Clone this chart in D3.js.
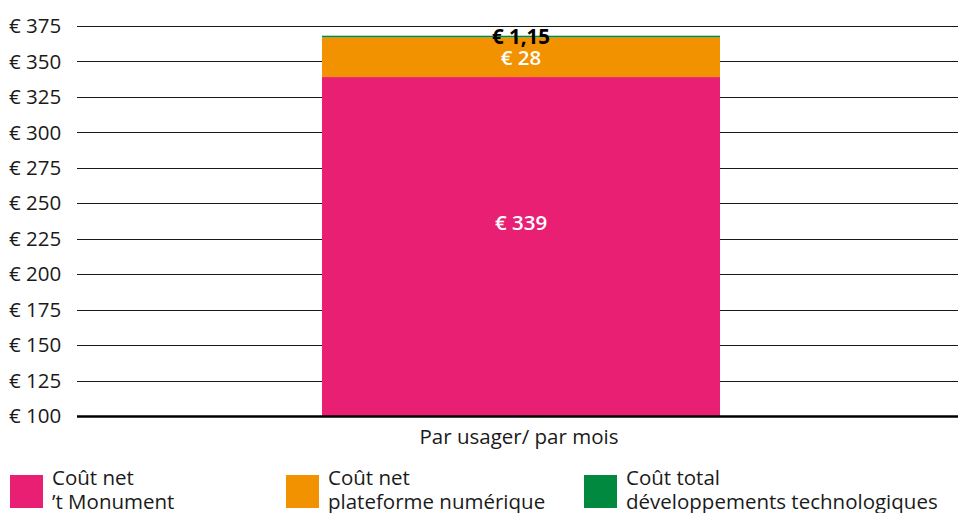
<!DOCTYPE html>
<html><head><meta charset="utf-8">
<script src="https://cdn.jsdelivr.net/npm/d3@7"></script>
<style>
body{margin:0;background:#fff;}
svg text{font-family:"Open Sans",sans-serif;}
</style></head>
<body><svg id="chart" width="958" height="513"></svg>
<script>
const categories = ["Par usager/ par mois"];
const seriesNames = [["Coût net", "’t Monument"], ["Coût net", "plateforme numérique"], ["Coût total", "développements technologiques"]];
const seriesValues = [[339], [28], [1.15]];
const valueLabels = ["€ 339", "€ 28", "€ 1,15"];
const colors = ["#E91F73", "#F39200", "#00893F"];
const tickValues = [100, 125, 150, 175, 200, 225, 250, 275, 300, 325, 350, 375];

const FS = 20.5;
const svg = d3.select("#chart");
const y = d3.scaleLinear().domain([100, 375]).range([416, 26]);
const x = d3.scaleBand().domain(categories).range([77, 965]).padding(0.381);

// gridlines
svg.append("g").selectAll("line").data(tickValues.filter(d => d !== 100)).join("line")
  .attr("x1", 77).attr("x2", 958)
  .attr("y1", d => Math.round(y(d)) + 0.5).attr("y2", d => Math.round(y(d)) + 0.5)
  .attr("stroke", "#1a1a1a").attr("stroke-width", 1);

// tick labels
svg.append("g").selectAll("text").data(tickValues).join("text")
  .attr("x", 9).attr("y", d => y(d)).attr("dy", "0.35em")
  .attr("font-size", FS).attr("fill", "#1a1a1a")
  .text(d => "€ " + d);

// stacked bars
const stackData = categories.map((c, i) => {
  const o = {cat: c};
  seriesValues.forEach((s, j) => o["s" + j] = s[i]);
  return o;
});
const stack = d3.stack().keys(seriesValues.map((_, j) => "s" + j))(stackData);
const clipLow = v => Math.max(v, y.domain()[0]);

stack.forEach((layer, j) => {
  svg.append("g").selectAll("rect").data(layer).join("rect")
    .attr("x", d => x(d.data.cat)).attr("width", x.bandwidth())
    .attr("y", d => y(d[1]))
    .attr("height", d => y(clipLow(d[0])) - y(d[1]))
    .attr("fill", colors[j]);
});

// axis baseline
svg.append("line").attr("x1", 77).attr("x2", 958)
  .attr("y1", y(100) + 0.5).attr("y2", y(100) + 0.5)
  .attr("stroke", "#000").attr("stroke-width", 2.5);

// value labels
stack.forEach((layer, j) => {
  layer.forEach(d => {
    let cy;
    if (j === 0) cy = y(clipLow(d[0])) - (y(clipLow(d[0])) - y(d[1])) * 0.57;
    else if (j === 1) cy = (y(d[0]) + y(d[1])) / 2 + 1;
    else cy = (y(d[0]) + y(d[1])) / 2;
    svg.append("text")
      .attr("x", x(d.data.cat) + x.bandwidth() / 2)
      .attr("y", cy).attr("dy", "0.35em")
      .attr("text-anchor", "middle").attr("font-size", FS)
      .attr("font-weight", j === 2 ? 700 : 600)
      .attr("fill", j === 2 ? "#000" : "#fff")
      .text(valueLabels[j]);
  });
});

// category label
svg.append("g").selectAll("text").data(categories).join("text")
  .attr("x", d => x(d) + x.bandwidth() / 2 - 2).attr("y", 437).attr("dy", "0.35em")
  .attr("text-anchor", "middle").attr("font-size", FS).attr("fill", "#1a1a1a")
  .text(d => d);

// legend
const legendX = [10, 286, 584];
seriesNames.forEach((name, j) => {
  const g = svg.append("g").attr("transform", `translate(${legendX[j]},0)`);
  g.append("rect").attr("x", 0).attr("y", 475).attr("width", 33).attr("height", 33).attr("fill", colors[j]);
  name.forEach((line, k) => {
    g.append("text").attr("x", 42).attr("y", 478 + k * 24).attr("dy", "0.35em")
      .attr("font-size", FS).attr("fill", "#1a1a1a").text(line);
  });
});
</script></body></html>
